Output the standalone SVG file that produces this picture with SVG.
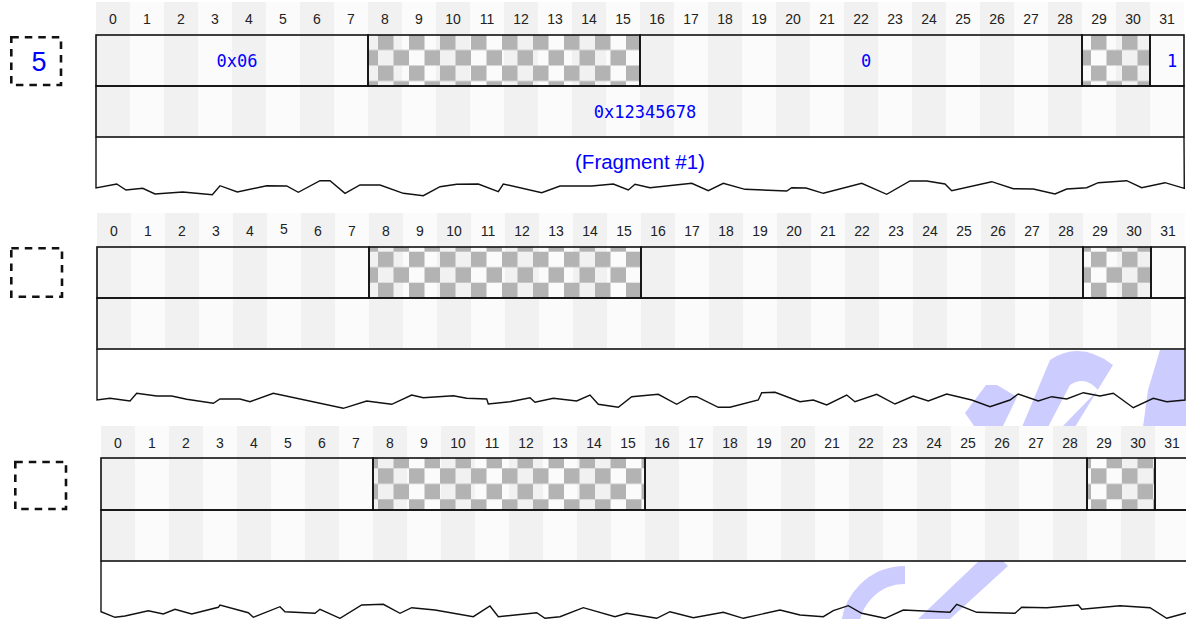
<svg xmlns="http://www.w3.org/2000/svg" width="1186" height="619" viewBox="0 0 1186 619">
<style>
.hd{font-family:"Liberation Sans",Arial,sans-serif;font-size:14px;fill:#222;text-anchor:middle}
.mono{font-family:"DejaVu Sans Mono",monospace;font-size:17px;fill:#0000ff;text-anchor:middle}
.sans{font-family:"Liberation Sans",Arial,sans-serif;font-size:20.5px;fill:#0000ff;text-anchor:middle}
.num{font-family:"Liberation Sans",Arial,sans-serif;font-size:27px;fill:#0000ff;text-anchor:middle}
.fld{fill:none;stroke:#111;stroke-width:1.6}
.frag{fill:none;stroke:#111;stroke-width:1.4;stroke-linejoin:miter}
.dash{fill:none;stroke:#111;stroke-width:2.6;stroke-dasharray:7.5 6}
.wm{fill:#ccccff;stroke:none}
</style>
<defs>
<pattern id="s1" patternUnits="userSpaceOnUse" x="96" y="0" width="68" height="10"><rect width="34" height="10" fill="#f1f1f1"/><rect x="34" width="34" height="10" fill="#fbfbfb"/></pattern>
<pattern id="s2" patternUnits="userSpaceOnUse" x="97" y="0" width="68" height="10"><rect width="34" height="10" fill="#f1f1f1"/><rect x="34" width="34" height="10" fill="#fbfbfb"/></pattern>
<pattern id="s3" patternUnits="userSpaceOnUse" x="101" y="0" width="68" height="10"><rect width="34" height="10" fill="#f1f1f1"/><rect x="34" width="34" height="10" fill="#fbfbfb"/></pattern>
<pattern id="c1" patternUnits="userSpaceOnUse" x="378" y="34.5" width="31" height="31"><rect width="15.5" height="15.5" fill="#b3b3b3"/><rect x="15.5" y="15.5" width="15.5" height="15.5" fill="#b3b3b3"/></pattern>
<pattern id="c2" patternUnits="userSpaceOnUse" x="378" y="251.7" width="31" height="31"><rect width="15.5" height="15.5" fill="#b3b3b3"/><rect x="15.5" y="15.5" width="15.5" height="15.5" fill="#b3b3b3"/></pattern>
<pattern id="c3" patternUnits="userSpaceOnUse" x="378" y="468.3" width="31" height="31"><rect width="15.5" height="15.5" fill="#b3b3b3"/><rect x="15.5" y="15.5" width="15.5" height="15.5" fill="#b3b3b3"/></pattern>
</defs>
<rect width="1186" height="619" fill="#fff"/>

<!-- background watermark fragments (behind the diagrams) -->
<g id="watermark">
<polygon class="wm" points="986,385 997,385 1017,397 1003,426 974,426 965,413"/>
<path class="wm" fill-rule="evenodd" d="M1022,427 L1050,360 Q1080,340 1113,365 L1075,427 Z M1048,427 L1070,385 Q1085,375 1098,390 L1062,427 Z"/>
<polygon class="wm" points="1160,350 1186,350 1186,427 1143,427 1148,390"/>
<path d="M850,630 A55,55 0 0 1 905,575" fill="none" stroke="#ccccff" stroke-width="18"/>
<polygon class="wm" points="918,619 950,619 1008,566 1000,558 982,558"/>
</g>

<!-- Diagram 1 -->
<g id="diagram1">
<rect x="96" y="2" width="1088" height="33" fill="url(#s1)"/>
<g class="hd">
<text x="113" y="24">0</text><text x="147" y="24">1</text><text x="181" y="24">2</text><text x="215" y="24">3</text><text x="249" y="24">4</text><text x="283" y="24">5</text><text x="317" y="24">6</text><text x="351" y="24">7</text><text x="385" y="24">8</text><text x="419" y="24">9</text><text x="453" y="24">10</text><text x="487" y="24">11</text><text x="521" y="24">12</text><text x="555" y="24">13</text><text x="589" y="24">14</text><text x="623" y="24">15</text><text x="657" y="24">16</text><text x="691" y="24">17</text><text x="725" y="24">18</text><text x="759" y="24">19</text><text x="793" y="24">20</text><text x="827" y="24">21</text><text x="861" y="24">22</text><text x="895" y="24">23</text><text x="929" y="24">24</text><text x="963" y="24">25</text><text x="997" y="24">26</text><text x="1031" y="24">27</text><text x="1065" y="24">28</text><text x="1099" y="24">29</text><text x="1133" y="24">30</text><text x="1167" y="24">31</text>
</g>
<rect x="96" y="35" width="1088" height="102" fill="url(#s1)"/>
<rect x="368" y="35" width="272" height="51" fill="url(#c1)"/>
<rect x="1082" y="35" width="68" height="51" fill="url(#c1)"/>
<g id="d1-fields">
<rect class="fld" x="96" y="35" width="272" height="51"/>
<rect class="fld" x="368" y="35" width="272" height="51"/>
<rect class="fld" x="640" y="35" width="442" height="51"/>
<rect class="fld" x="1082" y="35" width="68" height="51"/>
<rect class="fld" x="1150" y="35" width="34" height="51"/>
<rect class="fld" x="96" y="86" width="1088" height="51"/>
</g>
<path class="frag" d="M96,137 L96,188 116.7,184 126,190 142.7,188.3 155,194 182.7,192 212.3,194.7 220,185.7 237.3,192 266.7,185.7 286.7,186 298.3,192.3 320,180.7 330,180.7 345,193.3 360,185 380,185 403.3,193.3 423.3,195.7 440,186.7 456.7,184.3 478.3,184 498.3,191.7 503.3,184 541.7,192.7 560,186 591.7,186 613.3,184 628.3,190 635,184.3 650,187.7 691.7,183.3 708.3,190.7 723.3,183.3 745,189.3 786.7,191 791.7,187.7 806,188 823.3,193.3 861.7,183.3 886.7,194.3 910,181 926.7,181 945,184 951.7,190.7 991.7,181.7 1013.3,188.7 1033.3,189 1055,194 1066.7,189 1086.7,187.7 1098.3,182.7 1126.7,180.7 1141.7,187.7 1165,182.7 1184.3,188.3 L1184,137"/>
<text class="mono" x="237" y="67">0x06</text>
<text class="mono" x="866" y="67">0</text>
<text class="mono" x="1172" y="67">1</text>
<text class="mono" x="645" y="118">0x12345678</text>
<text class="sans" x="640" y="169">(Fragment #1)</text>
<g id="d1-index"><rect class="dash" x="11.3" y="37.3" width="49.7" height="47.7"/><text class="num" x="39" y="70.5">5</text></g>
</g>

<!-- Diagram 2 -->
<g id="diagram2">
<rect x="97" y="213" width="1088" height="34" fill="url(#s2)"/>
<g class="hd">
<text x="114" y="235.7">0</text><text x="148" y="235.7">1</text><text x="182" y="235.7">2</text><text x="216" y="235.7">3</text><text x="250" y="235.7">4</text><text x="284" y="234">5</text><text x="318" y="235.7">6</text><text x="352" y="235.7">7</text><text x="386" y="235.7">8</text><text x="420" y="235.7">9</text><text x="454" y="235.7">10</text><text x="488" y="235.7">11</text><text x="522" y="235.7">12</text><text x="556" y="235.7">13</text><text x="590" y="235.7">14</text><text x="624" y="235.7">15</text><text x="658" y="235.7">16</text><text x="692" y="235.7">17</text><text x="726" y="235.7">18</text><text x="760" y="235.7">19</text><text x="794" y="235.7">20</text><text x="828" y="235.7">21</text><text x="862" y="235.7">22</text><text x="896" y="235.7">23</text><text x="930" y="235.7">24</text><text x="964" y="235.7">25</text><text x="998" y="235.7">26</text><text x="1032" y="235.7">27</text><text x="1066" y="235.7">28</text><text x="1100" y="235.7">29</text><text x="1134" y="235.7">30</text><text x="1168" y="235.7">31</text>
</g>
<rect x="97" y="247" width="1088" height="102" fill="url(#s2)"/>
<rect x="369" y="247" width="272" height="51" fill="url(#c2)"/>
<rect x="1083" y="247" width="68" height="51" fill="url(#c2)"/>
<g id="d2-fields">
<rect class="fld" x="97" y="247" width="272" height="51"/>
<rect class="fld" x="369" y="247" width="272" height="51"/>
<rect class="fld" x="641" y="247" width="442" height="51"/>
<rect class="fld" x="1083" y="247" width="68" height="51"/>
<rect class="fld" x="1151" y="247" width="34" height="51"/>
<rect class="fld" x="97" y="298" width="1088" height="51"/>
</g>
<path class="frag" d="M97,349 L97,400 110,398.3 130,401 136.7,393.3 156.7,396 171.7,396 186.7,399.3 213.3,403.3 220,399 240,399 250,401.7 273.3,393.3 343.3,408.3 366.7,401 380,402.7 391.7,404.3 411.7,395 423.3,397.7 453.3,395.7 466.7,398.3 486.7,399 488.3,404 510,401.7 530,397.7 535,402.3 553.3,398.3 576.7,401 590,395 598.3,404.3 618.3,407.3 631.7,396.7 658.3,394.3 676.7,404.3 690,396.7 696.7,396.7 718.3,407.3 730,407.3 758.3,400 761.7,392.7 775,392.3 800,401.7 813.3,400 826.7,405 846.7,395 855,401.7 876.7,394.3 895,404 913.3,396 928.3,401 946.7,394 971.7,400 990,406.7 1010,400 1018.3,394 1038.3,401 1051.7,396.7 1066.7,399 1083.3,392.7 1100,396 1113.3,393.3 1133.3,407.7 1153.3,398.3 1166.7,401.7 1185,400 L1185,349"/>
<g id="d2-index"><rect class="dash" x="11.3" y="248.3" width="50.7" height="48.4"/></g>
</g>

<!-- Diagram 3 -->
<g id="diagram3">
<rect x="101" y="426" width="1088" height="32" fill="url(#s3)"/>
<g class="hd">
<text x="118" y="448.3">0</text><text x="152" y="448.3">1</text><text x="186" y="448.3">2</text><text x="220" y="448.3">3</text><text x="254" y="448.3">4</text><text x="288" y="448.3">5</text><text x="322" y="448.3">6</text><text x="356" y="448.3">7</text><text x="390" y="448.3">8</text><text x="424" y="448.3">9</text><text x="458" y="448.3">10</text><text x="492" y="448.3">11</text><text x="526" y="448.3">12</text><text x="560" y="448.3">13</text><text x="594" y="448.3">14</text><text x="628" y="448.3">15</text><text x="662" y="448.3">16</text><text x="696" y="448.3">17</text><text x="730" y="448.3">18</text><text x="764" y="448.3">19</text><text x="798" y="448.3">20</text><text x="832" y="448.3">21</text><text x="866" y="448.3">22</text><text x="900" y="448.3">23</text><text x="934" y="448.3">24</text><text x="968" y="448.3">25</text><text x="1002" y="448.3">26</text><text x="1036" y="448.3">27</text><text x="1070" y="448.3">28</text><text x="1104" y="448.3">29</text><text x="1138" y="448.3">30</text><text x="1172" y="448.3">31</text>
</g>
<rect x="101" y="458" width="1088" height="103" fill="url(#s3)"/>
<rect x="373" y="458" width="272" height="52" fill="url(#c3)"/>
<rect x="1087" y="458" width="68" height="52" fill="url(#c3)"/>
<g id="d3-fields">
<rect class="fld" x="101" y="458" width="272" height="52"/>
<rect class="fld" x="373" y="458" width="272" height="52"/>
<rect class="fld" x="645" y="458" width="442" height="52"/>
<rect class="fld" x="1087" y="458" width="68" height="52"/>
<rect class="fld" x="1155" y="458" width="34" height="52"/>
<rect class="fld" x="101" y="510" width="1088" height="51"/>
</g>
<path class="frag" d="M101,561 L101,611.7 115,617.3 125,616 148.3,610.7 163.3,614 175,609.3 191.7,614 218.3,607.3 220,605 248.3,612.7 253.3,617.3 280,606.7 285,611.7 315,613.3 320,609.3 340,618.3 361.7,605 383.3,604.3 400,613.3 411.7,607.7 435,610 473.3,616.7 490,606 498.3,616.7 536.7,612.7 545,618.3 560,616.7 583.3,607.7 615,616.7 626.7,613.3 656.7,618.3 670,611.7 693.3,617.7 723.3,612.3 743.3,618.3 780,610 800,615 823.3,616.7 833.3,610.7 848.3,605.7 861.7,613.3 885,618.3 903.3,610 950,612.3 956.7,604.3 976.7,612.3 1015,613.3 1021.7,607.3 1046.7,607.7 1078.3,605 1081.7,609.3 1120,605.7 1150,607.7 1166.7,618.3 1185,613.3 1189,612 L1189,561"/>
<g id="d3-index"><rect class="dash" x="15.3" y="462" width="50.7" height="47"/></g>
</g>
</svg>
